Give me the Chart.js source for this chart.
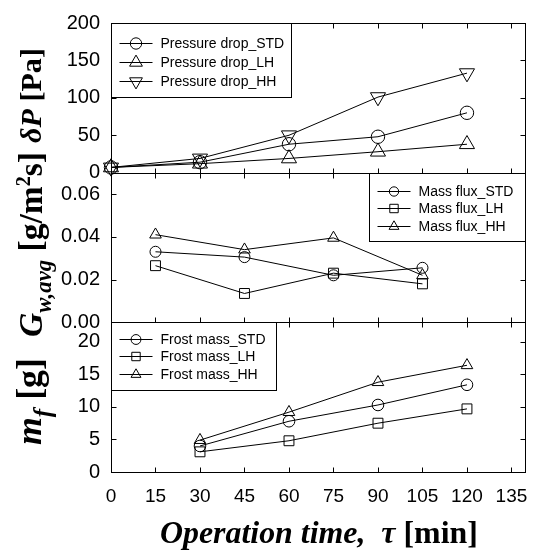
<!DOCTYPE html>
<html>
<head>
<meta charset="utf-8">
<script src="https://cdn.jsdelivr.net/npm/chart.js@4.4.0/dist/chart.umd.min.js"></script>
<style>
  html, body { margin: 0; padding: 0; background: #fff; }
  canvas { display: block; }
</style>
</head>
<body>
<canvas id="chart" width="536" height="551"></canvas>
<script>
'use strict';

// x axis (operation time, min)
const xTicks = [0, 15, 30, 45, 60, 75, 90, 105, 120, 135];

// top panel: pressure drop [Pa]
const pressureTime = [0, 30, 60, 90, 120];
const pressureSTD = [7, 14, 38, 48, 80];
const pressureLH = [7, 12, 19, 28, 38];
const pressureHH = [7, 19, 50, 101, 133];
const pressureTicks = [0, 50, 100, 150, 200];

// middle panel: mass flux [g/m2s]
const fluxTime = [15, 45, 75, 105];
const fluxSTD = [0.033, 0.0305, 0.022, 0.0255];
const fluxLH = [0.0265, 0.0135, 0.023, 0.018];
const fluxHH = [0.041, 0.034, 0.0395, 0.022];
const fluxTicks = [0, 0.02, 0.04, 0.06];

// bottom panel: frost mass [g]
const massTime = [30, 60, 90, 120];
const massSTD = [4.0, 7.8, 10.3, 13.4];
const massLH = [3.1, 4.8, 7.5, 9.7];
const massHH = [4.9, 9.2, 13.8, 16.4];
const massTicks = [0, 5, 10, 15, 20];

const SANS = '"Liberation Sans", Arial, sans-serif';
const SERIF = '"Liberation Serif", "Times New Roman", serif';

const pts = (xs, ys) => xs.map((x, i) => ({ x: x, y: ys[i] }));

function series(label, xs, ys, axis, style, radius, rotation) {
    return {
        label: label,
        data: pts(xs, ys),
        yAxisID: axis,
        borderColor: '#000',
        borderWidth: 1,
        backgroundColor: 'rgba(0,0,0,0)',
        pointStyle: style,
        pointRadius: radius,
        pointRotation: rotation || 0,
        pointBorderColor: '#000',
        pointBackgroundColor: 'rgba(0,0,0,0)',
        pointBorderWidth: 1,
        tension: 0,
        clip: false
    };
}

const datasets = [
    series('Pressure drop_STD', pressureTime, pressureSTD, 'yP', 'circle', 6.7),
    series('Pressure drop_LH', pressureTime, pressureLH, 'yP', 'triangle', 8.7),
    series('Pressure drop_HH', pressureTime, pressureHH, 'yP', 'triangle', 8.7, 180),
    series('Mass flux_STD', fluxTime, fluxSTD, 'yG', 'circle', 5.5),
    series('Mass flux_LH', fluxTime, fluxLH, 'yG', 'rect', 7),
    series('Mass flux_HH', fluxTime, fluxHH, 'yG', 'triangle', 6.7),
    series('Frost mass_STD', massTime, massSTD, 'yM', 'circle', 5.8),
    series('Frost mass_LH', massTime, massLH, 'yM', 'rect', 7),
    series('Frost mass_HH', massTime, massHH, 'yM', 'triangle', 6.7)
];

// panel frames, inner ticks and legends
const panels = [
    { id: 'yP', ticks: pressureTicks, legend: { side: 'left', w: 180, h: 74, first: 19, step: 19, items: [0, 1, 2] } },
    { id: 'yG', ticks: fluxTicks, legend: { side: 'right', w: 156, h: 68, first: 17, step: 17.5, items: [3, 4, 5] } },
    { id: 'yM', ticks: massTicks, legend: { side: 'left', w: 165, h: 68, first: 16, step: 17.5, items: [6, 7, 8] } }
];

function marker(ctx, style, x, y, r, rot) {
    ctx.beginPath();
    if (style === 'circle') {
        ctx.arc(x, y, r, 0, Math.PI * 2);
    } else if (style === 'rect') {
        const s = r * Math.SQRT1_2;
        ctx.rect(x - s, y - s, 2 * s, 2 * s);
    } else {
        let a = (rot || 0) * Math.PI / 180;
        for (let k = 0; k < 3; k++) {
            const px = x + Math.sin(a) * r, py = y - Math.cos(a) * r;
            if (k) ctx.lineTo(px, py); else ctx.moveTo(px, py);
            a += Math.PI * 2 / 3;
        }
        ctx.closePath();
    }
    ctx.stroke();
}

function line(ctx, x1, y1, x2, y2) {
    ctx.beginPath();
    ctx.moveTo(x1, y1);
    ctx.lineTo(x2, y2);
    ctx.stroke();
}

// rich text segments: {t, f (style/weight), s (size factor), dy}
function richWidth(ctx, segs, size) {
    let w = 0;
    segs.forEach(sg => {
        ctx.font = sg.f + ' ' + (size * (sg.s || 1)) + 'px ' + SERIF;
        w += ctx.measureText(sg.t).width;
    });
    return w;
}

function drawRich(ctx, segs, size, x, y) {
    segs.forEach(sg => {
        ctx.font = sg.f + ' ' + (size * (sg.s || 1)) + 'px ' + SERIF;
        ctx.fillText(sg.t, x, y + (sg.dy || 0) * size / 30);
        x += ctx.measureText(sg.t).width;
    });
}

// font size that makes a label span the given length
function fitRich(ctx, segs, length) {
    return 30 * length / richWidth(ctx, segs, 30);
}

const titlePlugin = {
    id: 'titles',
    afterDraw(chart) {
        const ctx = chart.ctx;
        ctx.save();
        ctx.fillStyle = '#000';
        ctx.textBaseline = 'alphabetic';
        ctx.textAlign = 'left';

        // x title
        const xt = [
            { t: 'Operation time,  ', f: 'italic bold' },
            { t: 'τ', f: 'italic bold' },
            { t: ' [min]', f: 'bold' }
        ];
        drawRich(ctx, xt, fitRich(ctx, xt, 318), 160, 543);

        // rotated y titles: [segments, bottom y, top y, baseline x]
        const yTitles = [
            [[{ t: 'δ', f: 'italic bold' }, { t: 'P', f: 'italic bold' }, { t: ' [Pa]', f: 'bold' }], 143, 48, 41],
            [[{ t: 'G', f: 'italic bold' }, { t: 'w,avg', f: 'italic bold', s: 0.68, dy: 8 },
              { t: ' [g/m', f: 'bold' }, { t: '2', f: 'bold', s: 0.6, dy: -11 }, { t: 's]', f: 'bold' }], 337, 152, 42],
            [[{ t: 'm', f: 'italic bold' }, { t: 'f', f: 'italic bold', s: 0.7, dy: 8 }, { t: ' [g]', f: 'bold' }], 445, 358, 41]
        ];
        yTitles.forEach(([segs, y0, y1, bx]) => {
            const size = fitRich(ctx, segs, y0 - y1);
            ctx.save();
            ctx.translate(bx, y0);
            ctx.rotate(-Math.PI / 2);
            drawRich(ctx, segs, size, 0, 0);
            ctx.restore();
        });
        ctx.restore();
    }
};

const framePlugin = {
    id: 'frame',
    afterDraw(chart) {
        const ctx = chart.ctx;
        const area = chart.chartArea;
        const xs = chart.scales.x;
        const L = Math.round(area.left) + 0.5;
        const R = Math.round(area.right) - 0.5;
        ctx.save();
        ctx.strokeStyle = '#000';
        ctx.lineWidth = 1;
        panels.forEach(p => {
            const ys = chart.scales[p.id];
            const T = Math.round(ys.top) + 0.5;
            const B = Math.round(ys.bottom) + 0.5;
            ctx.strokeRect(L, T, R - L, B - T);
            xTicks.forEach(v => {
                const px = Math.round(xs.getPixelForValue(v)) + 0.5;
                line(ctx, px, T, px, T + 5);
                line(ctx, px, B, px, B - 5);
            });
            p.ticks.forEach(v => {
                const py = Math.round(ys.getPixelForValue(v)) + 0.5;
                line(ctx, L, py, L + 5, py);
                line(ctx, R, py, R - 5, py);
            });

            // legend box
            const lg = p.legend;
            const bx = lg.side === 'left' ? L : R - lg.w;
            ctx.fillStyle = '#fff';
            ctx.fillRect(bx, T, lg.w, lg.h);
            ctx.strokeRect(bx, T, lg.w, lg.h);
            ctx.font = '14px ' + SANS;
            ctx.textBaseline = 'middle';
            ctx.textAlign = 'left';
            lg.items.forEach((di, k) => {
                const ds = chart.data.datasets[di];
                const y = Math.round(T + lg.first + k * lg.step) + 0.5;
                line(ctx, bx + 8, y, bx + 41, y);
                marker(ctx, ds.pointStyle, bx + 24.5, y, ds.pointRadius * 0.85, ds.pointRotation);
                ctx.fillStyle = '#000';
                ctx.fillText(ds.label, bx + 49, y + 0.5);
            });
        });
        ctx.restore();
    }
};

function yAxis(ticks, max, fmt) {
    return {
        type: 'linear',
        position: 'left',
        stack: 'panels',
        stackWeight: 1,
        min: 0,
        max: max,
        grid: { display: false },
        border: { display: false },
        afterBuildTicks: s => { s.ticks = ticks.map(v => ({ value: v })); },
        afterFit: s => { s.width = 111; },
        ticks: {
            color: '#000',
            padding: 3,
            font: { family: SANS, size: 20 },
            autoSkip: false,
            callback: fmt
        }
    };
}

new Chart(document.getElementById('chart'), {
    type: 'line',
    data: { datasets: datasets },
    options: {
        responsive: false,
        animation: false,
        layout: { padding: { top: 23, right: 8, left: 0, bottom: 0 } },
        plugins: {
            legend: { display: false },
            tooltip: { enabled: false }
        },
        scales: {
            x: {
                type: 'linear',
                position: 'bottom',
                min: 0,
                max: 140,
                grid: { display: false },
                border: { display: false },
                afterBuildTicks: s => { s.ticks = xTicks.map(v => ({ value: v })); },
                afterFit: s => { s.height = 79; },
                ticks: {
                    color: '#000',
                    padding: 5,
                    maxRotation: 0,
                    autoSkip: false,
                    font: { family: SANS, size: 19 }
                }
            },
            yM: yAxis(massTicks, 23, v => String(v)),
            yG: yAxis(fluxTicks, 0.07, v => v.toFixed(2)),
            yP: yAxis(pressureTicks, 200, v => String(v))
        }
    },
    plugins: [framePlugin, titlePlugin]
});
</script>
</body>
</html>
